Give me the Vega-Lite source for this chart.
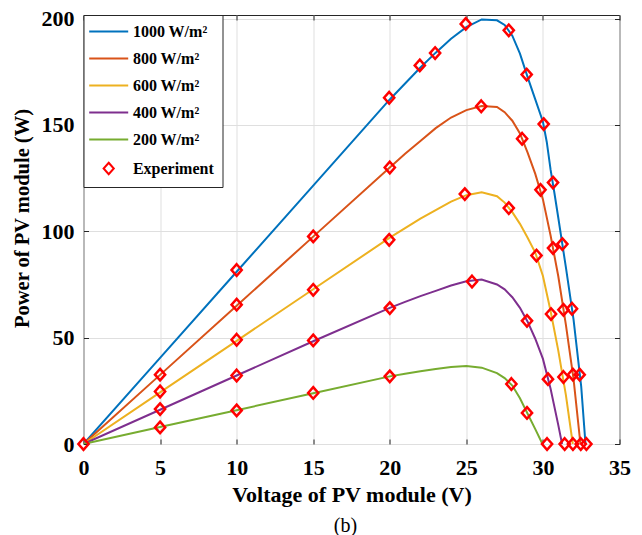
{
  "$schema": "https://vega.github.io/schema/vega-lite/v6.json",
  "width": 536,
  "height": 429,
  "autosize": {"type": "none"},
  "padding": {"left": 83.5, "top": 15, "right": 22, "bottom": 91},
  "background": "white",
  "config": {
    "font": "Liberation Serif",
    "view": {"stroke": "#262626", "strokeWidth": 1}
  },
  "title": {
    "text": "(b)",
    "orient": "bottom",
    "anchor": "middle",
    "font": "Liberation Serif",
    "fontWeight": "normal",
    "fontSize": 20,
    "color": "#000000",
    "dx": -6,
    "offset": 10
  },
  "datasets": {
    "sim": [
      {"series": "1000 W/m²", "v": 0, "p": 0},
      {"series": "1000 W/m²", "v": 5, "p": 40.5},
      {"series": "1000 W/m²", "v": 10, "p": 81},
      {"series": "1000 W/m²", "v": 15, "p": 121.5},
      {"series": "1000 W/m²", "v": 20, "p": 162},
      {"series": "1000 W/m²", "v": 21, "p": 169.5},
      {"series": "1000 W/m²", "v": 22, "p": 177},
      {"series": "1000 W/m²", "v": 23, "p": 184},
      {"series": "1000 W/m²", "v": 24, "p": 190.5},
      {"series": "1000 W/m²", "v": 25, "p": 196},
      {"series": "1000 W/m²", "v": 26, "p": 199.6},
      {"series": "1000 W/m²", "v": 27, "p": 199.2},
      {"series": "1000 W/m²", "v": 27.5, "p": 197},
      {"series": "1000 W/m²", "v": 28, "p": 192},
      {"series": "1000 W/m²", "v": 28.5, "p": 183.5},
      {"series": "1000 W/m²", "v": 29, "p": 172.5},
      {"series": "1000 W/m²", "v": 29.5, "p": 162},
      {"series": "1000 W/m²", "v": 30, "p": 151.5},
      {"series": "1000 W/m²", "v": 30.25, "p": 142},
      {"series": "1000 W/m²", "v": 30.5, "p": 129},
      {"series": "1000 W/m²", "v": 30.75, "p": 118},
      {"series": "1000 W/m²", "v": 31, "p": 106.5},
      {"series": "1000 W/m²", "v": 31.5, "p": 83},
      {"series": "1000 W/m²", "v": 32, "p": 58.5},
      {"series": "1000 W/m²", "v": 32.5, "p": 27},
      {"series": "1000 W/m²", "v": 32.78, "p": 0},
      {"series": "800 W/m²", "v": 0, "p": 0},
      {"series": "800 W/m²", "v": 5, "p": 32.5},
      {"series": "800 W/m²", "v": 10, "p": 65},
      {"series": "800 W/m²", "v": 15, "p": 97.5},
      {"series": "800 W/m²", "v": 20, "p": 130},
      {"series": "800 W/m²", "v": 21, "p": 136.5},
      {"series": "800 W/m²", "v": 22, "p": 142.5},
      {"series": "800 W/m²", "v": 23, "p": 148.5},
      {"series": "800 W/m²", "v": 24, "p": 153.5},
      {"series": "800 W/m²", "v": 25, "p": 157},
      {"series": "800 W/m²", "v": 26, "p": 158.9},
      {"series": "800 W/m²", "v": 27, "p": 158.5},
      {"series": "800 W/m²", "v": 27.5, "p": 156},
      {"series": "800 W/m²", "v": 28, "p": 152},
      {"series": "800 W/m²", "v": 28.5, "p": 146},
      {"series": "800 W/m²", "v": 29, "p": 137},
      {"series": "800 W/m²", "v": 29.5, "p": 127},
      {"series": "800 W/m²", "v": 30, "p": 115},
      {"series": "800 W/m²", "v": 30.5, "p": 98},
      {"series": "800 W/m²", "v": 31, "p": 79},
      {"series": "800 W/m²", "v": 31.5, "p": 56},
      {"series": "800 W/m²", "v": 32, "p": 30.5},
      {"series": "800 W/m²", "v": 32.45, "p": 0},
      {"series": "600 W/m²", "v": 0, "p": 0},
      {"series": "600 W/m²", "v": 5, "p": 24.25},
      {"series": "600 W/m²", "v": 10, "p": 48.5},
      {"series": "600 W/m²", "v": 15, "p": 72.75},
      {"series": "600 W/m²", "v": 20, "p": 97},
      {"series": "600 W/m²", "v": 21, "p": 101.5},
      {"series": "600 W/m²", "v": 22, "p": 106},
      {"series": "600 W/m²", "v": 23, "p": 110},
      {"series": "600 W/m²", "v": 24, "p": 114},
      {"series": "600 W/m²", "v": 25, "p": 117},
      {"series": "600 W/m²", "v": 26, "p": 118.3},
      {"series": "600 W/m²", "v": 27, "p": 116.5},
      {"series": "600 W/m²", "v": 27.5, "p": 113.5},
      {"series": "600 W/m²", "v": 28, "p": 109},
      {"series": "600 W/m²", "v": 28.5, "p": 103.5},
      {"series": "600 W/m²", "v": 29, "p": 97},
      {"series": "600 W/m²", "v": 29.5, "p": 90},
      {"series": "600 W/m²", "v": 30, "p": 79},
      {"series": "600 W/m²", "v": 30.5, "p": 62.5},
      {"series": "600 W/m²", "v": 31, "p": 44},
      {"series": "600 W/m²", "v": 31.5, "p": 23},
      {"series": "600 W/m²", "v": 31.95, "p": 0},
      {"series": "400 W/m²", "v": 0, "p": 0},
      {"series": "400 W/m²", "v": 5, "p": 16.1},
      {"series": "400 W/m²", "v": 10, "p": 32.2},
      {"series": "400 W/m²", "v": 15, "p": 48.3},
      {"series": "400 W/m²", "v": 20, "p": 64},
      {"series": "400 W/m²", "v": 21, "p": 66.8},
      {"series": "400 W/m²", "v": 22, "p": 69.5},
      {"series": "400 W/m²", "v": 23, "p": 72},
      {"series": "400 W/m²", "v": 24, "p": 74.5},
      {"series": "400 W/m²", "v": 25, "p": 76.5},
      {"series": "400 W/m²", "v": 26, "p": 77.3},
      {"series": "400 W/m²", "v": 27, "p": 75},
      {"series": "400 W/m²", "v": 27.5, "p": 72.7},
      {"series": "400 W/m²", "v": 28, "p": 69},
      {"series": "400 W/m²", "v": 28.5, "p": 64},
      {"series": "400 W/m²", "v": 29, "p": 57.5},
      {"series": "400 W/m²", "v": 29.5, "p": 49.5},
      {"series": "400 W/m²", "v": 30, "p": 40},
      {"series": "400 W/m²", "v": 30.5, "p": 26},
      {"series": "400 W/m²", "v": 31, "p": 9},
      {"series": "400 W/m²", "v": 31.25, "p": 0},
      {"series": "200 W/m²", "v": 0, "p": 0},
      {"series": "200 W/m²", "v": 5, "p": 7.95},
      {"series": "200 W/m²", "v": 10, "p": 15.9},
      {"series": "200 W/m²", "v": 15, "p": 23.85},
      {"series": "200 W/m²", "v": 20, "p": 31.8},
      {"series": "200 W/m²", "v": 21, "p": 33},
      {"series": "200 W/m²", "v": 22, "p": 34.2},
      {"series": "200 W/m²", "v": 23, "p": 35.3},
      {"series": "200 W/m²", "v": 24, "p": 36.2},
      {"series": "200 W/m²", "v": 25, "p": 36.7},
      {"series": "200 W/m²", "v": 26, "p": 35.9},
      {"series": "200 W/m²", "v": 27, "p": 33.3},
      {"series": "200 W/m²", "v": 27.5, "p": 31},
      {"series": "200 W/m²", "v": 28, "p": 27.5},
      {"series": "200 W/m²", "v": 28.5, "p": 21.5},
      {"series": "200 W/m²", "v": 29, "p": 14.2},
      {"series": "200 W/m²", "v": 29.5, "p": 7},
      {"series": "200 W/m²", "v": 29.97, "p": 0}
    ],
    "exp": [
      {"series": "Experiment", "v": 0, "p": 0},
      {"series": "Experiment", "v": 10, "p": 81.8},
      {"series": "Experiment", "v": 19.96, "p": 162.8},
      {"series": "Experiment", "v": 21.96, "p": 178},
      {"series": "Experiment", "v": 22.96, "p": 183.8},
      {"series": "Experiment", "v": 24.96, "p": 197.5},
      {"series": "Experiment", "v": 27.77, "p": 194.5},
      {"series": "Experiment", "v": 28.94, "p": 173.7},
      {"series": "Experiment", "v": 30.05, "p": 150.4},
      {"series": "Experiment", "v": 30.66, "p": 122.9},
      {"series": "Experiment", "v": 31.27, "p": 94},
      {"series": "Experiment", "v": 31.9, "p": 63.6},
      {"series": "Experiment", "v": 32.4, "p": 32.6},
      {"series": "Experiment", "v": 32.84, "p": 0},
      {"series": "Experiment", "v": 5, "p": 32.6},
      {"series": "Experiment", "v": 10, "p": 65.5},
      {"series": "Experiment", "v": 15, "p": 97.6},
      {"series": "Experiment", "v": 20, "p": 130},
      {"series": "Experiment", "v": 25.97, "p": 158.8},
      {"series": "Experiment", "v": 28.64, "p": 143.5},
      {"series": "Experiment", "v": 29.84, "p": 119.5},
      {"series": "Experiment", "v": 30.66, "p": 92.1},
      {"series": "Experiment", "v": 31.34, "p": 63.1},
      {"series": "Experiment", "v": 31.96, "p": 32.6},
      {"series": "Experiment", "v": 32.47, "p": 0},
      {"series": "Experiment", "v": 5, "p": 24.7},
      {"series": "Experiment", "v": 10, "p": 49},
      {"series": "Experiment", "v": 15, "p": 72.5},
      {"series": "Experiment", "v": 19.96, "p": 96},
      {"series": "Experiment", "v": 24.9, "p": 117.5},
      {"series": "Experiment", "v": 27.77, "p": 110.9},
      {"series": "Experiment", "v": 29.58, "p": 88.6},
      {"series": "Experiment", "v": 30.53, "p": 61.1},
      {"series": "Experiment", "v": 31.34, "p": 31.5},
      {"series": "Experiment", "v": 31.96, "p": 0},
      {"series": "Experiment", "v": 5, "p": 16.4},
      {"series": "Experiment", "v": 10, "p": 32.2},
      {"series": "Experiment", "v": 15, "p": 48.7},
      {"series": "Experiment", "v": 20, "p": 63.9},
      {"series": "Experiment", "v": 25.37, "p": 76.4},
      {"series": "Experiment", "v": 28.96, "p": 57.9},
      {"series": "Experiment", "v": 30.33, "p": 30.5},
      {"series": "Experiment", "v": 31.42, "p": 0},
      {"series": "Experiment", "v": 5, "p": 7.8},
      {"series": "Experiment", "v": 10, "p": 15.8},
      {"series": "Experiment", "v": 15, "p": 24},
      {"series": "Experiment", "v": 20, "p": 31.8},
      {"series": "Experiment", "v": 27.94, "p": 28.2},
      {"series": "Experiment", "v": 28.96, "p": 14.6},
      {"series": "Experiment", "v": 30.27, "p": 0}
    ]
  },
  "resolve": {"axis": {"x": "independent", "y": "independent"}},
  "layer": [
    {
      "data": {"name": "sim"},
      "mark": {"type": "line", "strokeWidth": 2, "clip": true},
      "encoding": {
        "x": {
          "field": "v", "type": "quantitative",
          "scale": {"domain": [0, 35], "nice": false, "zero": false},
          "axis": {
            "values": [0, 5, 10, 15, 20, 25, 30, 35],
            "grid": true, "gridColor": "#dfdfdf", "gridWidth": 1,
            "domain": false,
            "ticks": true, "tickSize": -5, "tickColor": "#262626", "tickWidth": 1,
            "labelFont": "Liberation Serif", "labelFontWeight": "bold", "labelFontSize": 22,
            "labelColor": "#000000", "labelPadding": 18, "labelFlush": false,
            "title": "Voltage of PV module (V)",
            "titleFont": "Liberation Serif", "titleFontWeight": "bold", "titleFontSize": 22,
            "titleColor": "#000000", "titleY": 57.7, "titleBaseline": "alphabetic"
          }
        },
        "y": {
          "field": "p", "type": "quantitative",
          "scale": {"domain": [0, 201.7], "nice": false, "zero": false},
          "axis": {
            "values": [0, 50, 100, 150, 200],
            "grid": true, "gridColor": "#dfdfdf", "gridWidth": 1,
            "domain": false,
            "ticks": true, "tickSize": -5, "tickColor": "#262626", "tickWidth": 1,
            "labelFont": "Liberation Serif", "labelFontWeight": "bold", "labelFontSize": 22,
            "labelColor": "#000000", "labelPadding": 14.5, "labelFlush": false,
            "title": "Power of PV module (W)",
            "titleFont": "Liberation Serif", "titleFontWeight": "bold", "titleFontSize": 20.5,
            "titleColor": "#000000", "titleX": -55.5, "titleY": 203, "titleBaseline": "alphabetic", "titleAngle": -90
          }
        },
        "color": {
          "field": "series", "type": "nominal",
          "scale": {
            "domain": ["1000 W/m²", "800 W/m²", "600 W/m²", "400 W/m²", "200 W/m²", "Experiment"],
            "range": ["#0072BD", "#D95319", "#EDB120", "#7E2F8E", "#77AC30", "#FF0000"]
          },
          "legend": {
            "title": null,
            "orient": "top-left",
            "offset": 0,
            "padding": 8,
            "fillColor": "#ffffff",
            "strokeColor": "#262626",
            "labelFont": "Liberation Serif", "labelFontWeight": "bold", "labelFontSize": 16,
            "labelColor": "#000000",
            "labelOffset": 15.7,
            "symbolOffset": 8.7,
            "rowPadding": 10,
            "symbolSize": 225,
            "symbolStrokeWidth": 2
          }
        },
        "detail": {"field": "series"}
      }
    },
    {
      "data": {"name": "exp"},
      "mark": {"type": "point", "filled": false, "strokeWidth": 2.5, "size": 225, "opacity": 1},
      "encoding": {
        "x": {"field": "v", "type": "quantitative", "axis": null},
        "y": {"field": "p", "type": "quantitative", "axis": null},
        "color": {"field": "series", "type": "nominal"},
        "shape": {
          "field": "series", "type": "nominal",
          "scale": {
            "domain": ["1000 W/m²", "800 W/m²", "600 W/m²", "400 W/m²", "200 W/m²", "Experiment"],
            "range": ["M-2.6,0L2.6,0", "M-2.6,0L2.6,0", "M-2.6,0L2.6,0", "M-2.6,0L2.6,0", "M-2.6,0L2.6,0", "M0,-0.77L0.68,0L0,0.77L-0.68,0Z"]
          }
        }
      }
    },
    {
      "data": {"name": "exp"},
      "mark": {"type": "point", "opacity": 0},
      "encoding": {
        "x": {
          "field": "v", "type": "quantitative",
          "axis": {
            "orient": "top", "values": [0, 5, 10, 15, 20, 25, 30, 35],
            "labels": false, "grid": false, "domain": false, "title": null,
            "ticks": true, "tickSize": -5, "tickColor": "#262626", "tickWidth": 1
          }
        },
        "y": {
          "field": "p", "type": "quantitative",
          "axis": {
            "orient": "right", "values": [0, 50, 100, 150, 200],
            "labels": false, "grid": false, "domain": false, "title": null,
            "ticks": true, "tickSize": -5, "tickColor": "#262626", "tickWidth": 1
          }
        }
      }
    }
  ]
}
